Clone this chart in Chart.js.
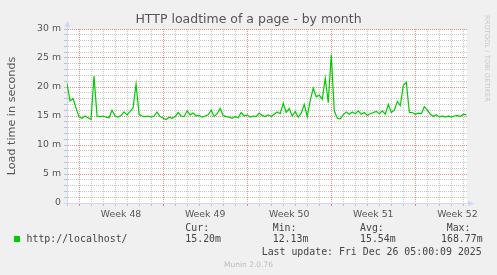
<!DOCTYPE html>
<html>
<head>
<meta charset="utf-8">
<title>HTTP loadtime of a page - by month</title>
<script src="https://cdn.jsdelivr.net/npm/chart.js@4.4.1/dist/chart.umd.min.js"></script>
<style>
    html, body { margin: 0; padding: 0; background: #f0f0f0; }
    #wrap { position: relative; width: 497px; height: 275px; overflow: hidden; background: #f0f0f0; }
    #chart { position: absolute; left: 0; top: 0; }
    .mono { position: absolute; white-space: nowrap; line-height: 1; font-family: "DejaVu Sans Mono", monospace; font-size: 9.9px; color: #444; }
    .swatch { position: absolute; left: 14px; top: 236px; width: 6px; height: 6px; background: #00cc00; }
    .munin { position: absolute; left: 248.5px; top: 260.5px; transform: translateX(-50%); white-space: nowrap; line-height: 1; font-family: "DejaVu Sans", sans-serif; font-size: 7.5px; color: #bbbbbb; }
    .rrd { position: absolute; left: 483px; top: 15px; writing-mode: vertical-rl; white-space: nowrap; line-height: 7px; font-family: "DejaVu Sans", sans-serif; font-size: 6.75px; color: #c8c8c8; }
</style>
</head>
<body>
<div id="wrap">
    <canvas id="chart" width="497" height="275"></canvas>

    <div class="swatch"></div>
    <div class="mono" style="left:26.5px; top:234px;">http://localhost/</div>
    <div class="mono" style="left:185.3px; top:223px;">Cur:</div>
    <div class="mono" style="left:185.3px; top:234px;">15.20m</div>
    <div class="mono" style="left:272.7px; top:223px;">Min:</div>
    <div class="mono" style="left:272.7px; top:234px;">12.13m</div>
    <div class="mono" style="left:360px; top:223px;">Avg:</div>
    <div class="mono" style="left:360px; top:234px;">15.54m</div>
    <div class="mono" style="left:446.7px; top:223px;">Max:</div>
    <div class="mono" style="left:441px; top:234px;">168.77m</div>
    <div class="mono" style="left:261.7px; top:247px;">Last update: Fri Dec 26 05:00:09 2025</div>
    <div class="munin">Munin 2.0.76</div>
    <div class="rrd">RRDTOOL / TOBI OETIKER</div>
</div>

<script>
// week labels sit in the middle of each week, red lines on the Mondays
const weekLabels = ['Week 48', 'Week 49', 'Week 50', 'Week 51', 'Week 52'];
const weekStarts = [0, 7, 14, 21, 28];   // days since Mon 24 Nov

// one sample every 6 hours, starting Sun 23 Nov 00:00 (day -1)
const startDay = -1;
const stepDays = 0.25;
const loadMs = [
    20.6, 17.6, 18.0, 16.4, 14.8, 14.6, 15.0, 14.7, 14.4, 21.9,
    15.0, 14.9, 15.0, 14.8, 14.7, 16.0, 15.0, 14.8, 15.1, 15.7,
    15.2, 15.8, 16.4, 20.5, 15.3, 15.0, 14.9, 15.0, 14.8, 15.0,
    15.7, 14.9, 14.6, 14.4, 14.8, 14.6, 14.9, 15.6, 15.0, 14.9,
    15.9, 15.2, 15.5, 15.0, 15.1, 14.8, 15.0, 15.2, 16.0, 14.9,
    15.4, 16.3, 15.1, 14.9, 14.8, 14.6, 14.9, 14.7, 15.6, 15.0,
    15.2, 14.8, 15.0, 14.9, 15.5, 15.1, 14.9, 15.2, 14.9, 15.3,
    15.7, 15.4, 17.2, 15.6, 16.3, 15.0, 15.8, 14.8, 15.5, 17.0,
    14.9, 17.7, 19.8, 18.3, 18.6, 17.9, 21.5, 17.3, 25.6, 15.9,
    14.6, 14.5, 15.2, 15.7, 15.3, 15.7, 15.4, 15.9, 15.3, 15.6,
    15.1, 15.4, 15.6, 15.8, 15.4, 15.9, 15.3, 17.0, 15.6, 16.0,
    17.5, 16.8, 20.3, 20.8, 15.6, 15.6, 15.3, 15.5, 15.4, 16.6,
    16.0, 15.3, 14.9, 15.2, 14.8, 15.0, 14.8, 15.0, 14.8, 15.0,
    15.1, 14.9, 15.3, 15.2
];

const yMin = 0;
const yMax = 30;
const yLabelEvery = 5;

const axisColor = '#cfd6f8';
const majorGrid = 'rgba(222, 79, 79, 0.65)';
const minorGrid = 'rgba(143, 143, 143, 0.5)';

Chart.defaults.font.family = '"DejaVu Sans", sans-serif';
Chart.defaults.color = '#555';

const points = loadMs.map((v, i) => ({ x: startDay + i * stepDays, y: v }));

const plotBg = {
    id: 'plotBg',
    beforeDraw(chart) {
        const { ctx, chartArea: a } = chart;
        ctx.save();
        ctx.fillStyle = '#ffffff';
        ctx.fillRect(a.left, a.top, a.right - a.left, a.bottom - a.top);
        ctx.restore();
    }
};

// little arrow heads at the end of both axes, like rrdtool does
const axisArrows = {
    id: 'axisArrows',
    afterDraw(chart) {
        const { ctx, chartArea: a } = chart;
        const x0 = Math.round(a.left) + 0.5;
        const y0 = Math.round(a.bottom) + 0.5;
        ctx.save();
        ctx.strokeStyle = axisColor;
        ctx.fillStyle = axisColor;
        ctx.lineWidth = 1;
        ctx.beginPath();
        ctx.moveTo(x0, a.top);
        ctx.lineTo(x0, a.top - 3);
        ctx.moveTo(a.right, y0);
        ctx.lineTo(a.right + 2, y0);
        ctx.moveTo(x0 - 4, y0);
        ctx.lineTo(x0, y0);
        ctx.stroke();
        ctx.beginPath();
        ctx.moveTo(x0 - 3, a.top - 2);
        ctx.lineTo(x0 + 3, a.top - 2);
        ctx.lineTo(x0, a.top - 8);
        ctx.closePath();
        ctx.fill();
        ctx.beginPath();
        ctx.moveTo(a.right + 1, y0 - 3);
        ctx.lineTo(a.right + 1, y0 + 3);
        ctx.lineTo(a.right + 7, y0);
        ctx.closePath();
        ctx.fill();
        ctx.restore();
    }
};

function xGridColor(ctx) {
    const v = ctx.tick ? ctx.tick.value : null;
    if (v === null) return 'transparent';
    if (weekStarts.includes(v)) return majorGrid;
    if (Number.isInteger(v)) return minorGrid;
    return 'transparent';
}

function yGridColor(ctx) {
    const v = ctx.tick ? ctx.tick.value : null;
    if (v === null || v === yMin) return 'transparent';
    return v % yLabelEvery === 0 ? majorGrid : minorGrid;
}

new Chart(document.getElementById('chart'), {
    type: 'line',
    data: {
        datasets: [{
            label: 'http://localhost/',
            data: points,
            borderColor: '#00cc00',
            borderWidth: 1.2,
            pointRadius: 0,
            tension: 0,
            fill: false
        }]
    },
    options: {
        responsive: false,
        animation: false,
        devicePixelRatio: 1,
        layout: { padding: 0 },
        plugins: {
            legend: { display: false },
            tooltip: { enabled: false },
            title: {
                display: true,
                text: 'HTTP loadtime of a page - by month',
                color: '#555',
                font: { size: 12.5, weight: 'normal' },
                padding: { top: 12, bottom: 2 }
            }
        },
        scales: {
            x: {
                type: 'linear',
                min: startDay,
                max: 32.3,
                afterBuildTicks(s) {
                    const t = [];
                    for (let d = startDay; d <= 32; d += 0.5) t.push({ value: d });
                    s.ticks = t;
                },
                afterFit(s) { s.height = 72; },
                ticks: {
                    autoSkip: false,
                    maxRotation: 0,
                    padding: 3,
                    font: { size: 9.33 },
                    callback(v) {
                        const k = weekStarts.findIndex(w => w + 3.5 === v);
                        return k >= 0 ? weekLabels[k] : '';
                    }
                },
                grid: { color: xGridColor, tickColor: xGridColor, tickLength: 3 },
                border: { color: axisColor, dash: [1, 1] }
            },
            y: {
                min: yMin,
                max: yMax,
                afterBuildTicks(s) {
                    const t = [];
                    for (let v = yMin; v <= yMax; v++) t.push({ value: v });
                    s.ticks = t;
                },
                afterFit(s) { s.width = 67; },
                ticks: {
                    autoSkip: false,
                    padding: 3,
                    font: { size: 9.33 },
                    callback(v) {
                        if (v % yLabelEvery !== 0) return '';
                        return v === 0 ? '0' : v + ' m';
                    }
                },
                grid: { color: yGridColor, tickColor: minorGrid, tickLength: 3 },
                border: { color: axisColor, dash: [1, 1] },
                title: {
                    display: true,
                    text: 'Load time in seconds',
                    color: '#555',
                    font: { size: 11.2 },
                    padding: { top: 5, bottom: 0 }
                }
            },
            yRight: {
                position: 'right',
                afterFit(s) { s.width = 30; },
                grid: { display: false },
                ticks: { display: false },
                border: { display: false }
            }
        }
    },
    plugins: [plotBg, axisArrows]
});
</script>
</body>
</html>
